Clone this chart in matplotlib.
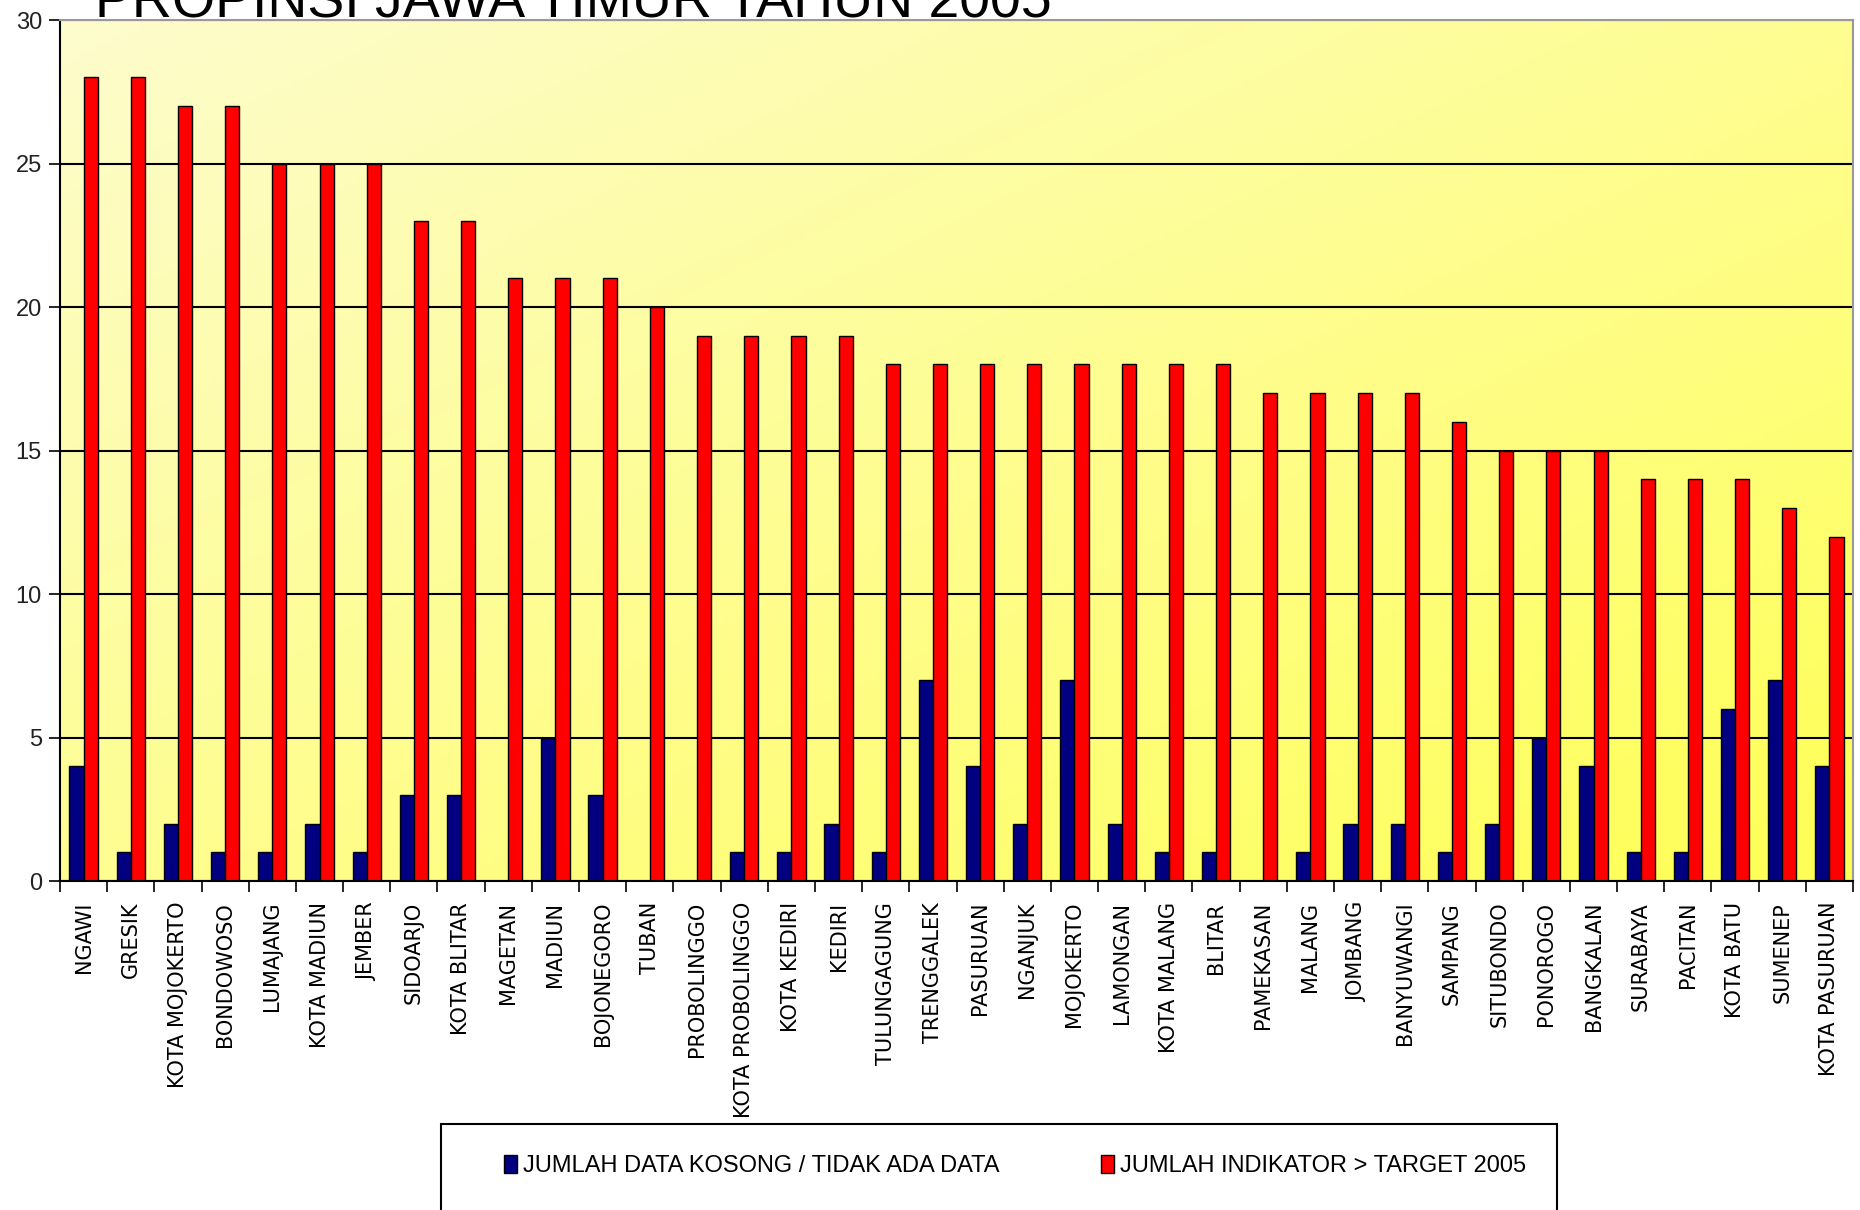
import numpy as np
import matplotlib.pyplot as plt
from matplotlib.patches import Rectangle, Patch

# ---- Data ----
regions = [
    "NGAWI", "GRESIK", "KOTA MOJOKERTO", "BONDOWOSO", "LUMAJANG", "KOTA MADIUN",
    "JEMBER", "SIDOARJO", "KOTA BLITAR", "MAGETAN", "MADIUN", "BOJONEGORO",
    "TUBAN", "PROBOLINGGO", "KOTA PROBOLINGGO", "KOTA KEDIRI", "KEDIRI",
    "TULUNGAGUNG", "TRENGGALEK", "PASURUAN", "NGANJUK", "MOJOKERTO", "LAMONGAN",
    "KOTA MALANG", "BLITAR", "PAMEKASAN", "MALANG", "JOMBANG", "BANYUWANGI",
    "SAMPANG", "SITUBONDO", "PONOROGO", "BANGKALAN", "SURABAYA", "PACITAN",
    "KOTA BATU", "SUMENEP", "KOTA PASURUAN",
]
data_kosong = [4, 1, 2, 1, 1, 2, 1, 3, 3, 0, 5, 3, 0, 0, 1, 1, 2, 1, 7, 4,
               2, 7, 2, 1, 1, 0, 1, 2, 2, 1, 2, 5, 4, 1, 1, 6, 7, 4]
indikator = [28, 28, 27, 27, 25, 25, 25, 23, 23, 21, 21, 21, 20, 19, 19, 19,
             19, 18, 18, 18, 18, 18, 18, 18, 18, 17, 17, 17, 17, 16, 15, 15,
             15, 14, 14, 14, 13, 12]
yticks = [0, 5, 10, 15, 20, 25, 30]

label_kosong = "JUMLAH DATA KOSONG / TIDAK ADA DATA"
label_indikator = "JUMLAH INDIKATOR > TARGET 2005"
title = "PROPINSI JAWA TIMUR TAHUN 2005"

# -----------------------------
# Figure
# -----------------------------
fig = plt.figure(figsize=(18.6, 12.1), dpi=100)
ax = fig.add_axes([0.03226, 0.2719, 0.9640, 0.71157])

# yellow gradient background
nx, ny = 200, 200
gx, gy = np.meshgrid(np.linspace(0, 1, nx), np.linspace(0, 1, ny))
t = (gx + gy) / 2
c0 = np.array([253, 252, 205]) / 255
c1 = np.array([255, 255, 85]) / 255
grad = c0[None, None, :] * (1 - t[..., None]) + c1[None, None, :] * t[..., None]
ax.imshow(grad, extent=[0, 1, 0, 1], transform=ax.transAxes,
          aspect="auto", origin="upper", zorder=0)

x = np.arange(len(regions))
w = 0.3
ax.bar(x - w / 2, data_kosong, w, color="#000080", edgecolor="black",
       linewidth=1, zorder=2)
ax.bar(x + w / 2, indikator, w, color="#ff0000", edgecolor="black",
       linewidth=1, zorder=2)

ax.set_xlim(-0.5, len(regions) - 0.5)
ax.set_ylim(0, 30)

# ---- axes styling ----
ax.set_yticks(yticks)
ax.set_yticklabels([str(v) for v in yticks], fontsize=17,
                   family="Liberation Sans", color="#222222")
ax.tick_params(axis="y", length=8, width=1.2, pad=5)

ax.set_xticks(x)
ax.set_xticklabels(regions, rotation=90, fontsize=15, family="DejaVu Sans")
ax.tick_params(axis="x", which="major", length=0, pad=15)
ax.set_xticks(np.arange(-0.5, len(regions)), minor=True)
ax.tick_params(axis="x", which="minor", length=8, width=1.2)

ax.yaxis.grid(True, color="black", linewidth=1.5)
ax.set_axisbelow(True)

for side in ["left", "bottom"]:
    ax.spines[side].set_color("black")
    ax.spines[side].set_linewidth(1.5)
for side in ["top", "right"]:
    ax.spines[side].set_color("#999999")
    ax.spines[side].set_linewidth(1.5)

# -----------------------------
# Title (cut off at the top, as in the source slide)
# -----------------------------
fig.text(95 / 1860, 1 - 18 / 1210, title, fontsize=40,
         family="Liberation Sans", va="baseline", ha="left")

# -----------------------------
# Legend box
# -----------------------------
box = Rectangle((441 / 1860, -0.05), (1557 - 441) / 1860, 0.05 + (1210 - 1124) / 1210,
                transform=fig.transFigure, facecolor="white", edgecolor="black",
                linewidth=1.5, zorder=5)
fig.patches.append(box)

handles = [Patch(facecolor="#000080", edgecolor="black", label=label_kosong),
           Patch(facecolor="#ff0000", edgecolor="black", label=label_indikator)]
leg = fig.legend(handles=handles, loc="center left", ncol=2, frameon=False,
                 bbox_to_anchor=(492 / 1860, 1 - 1166 / 1210),
                 prop={"family": "Liberation Sans", "size": 17},
                 handlelength=0.55, handleheight=0.8, handletextpad=0.25,
                 columnspacing=4.3, borderpad=0)
leg.set_zorder(6)

fig.savefig("out.png", dpi=100)
